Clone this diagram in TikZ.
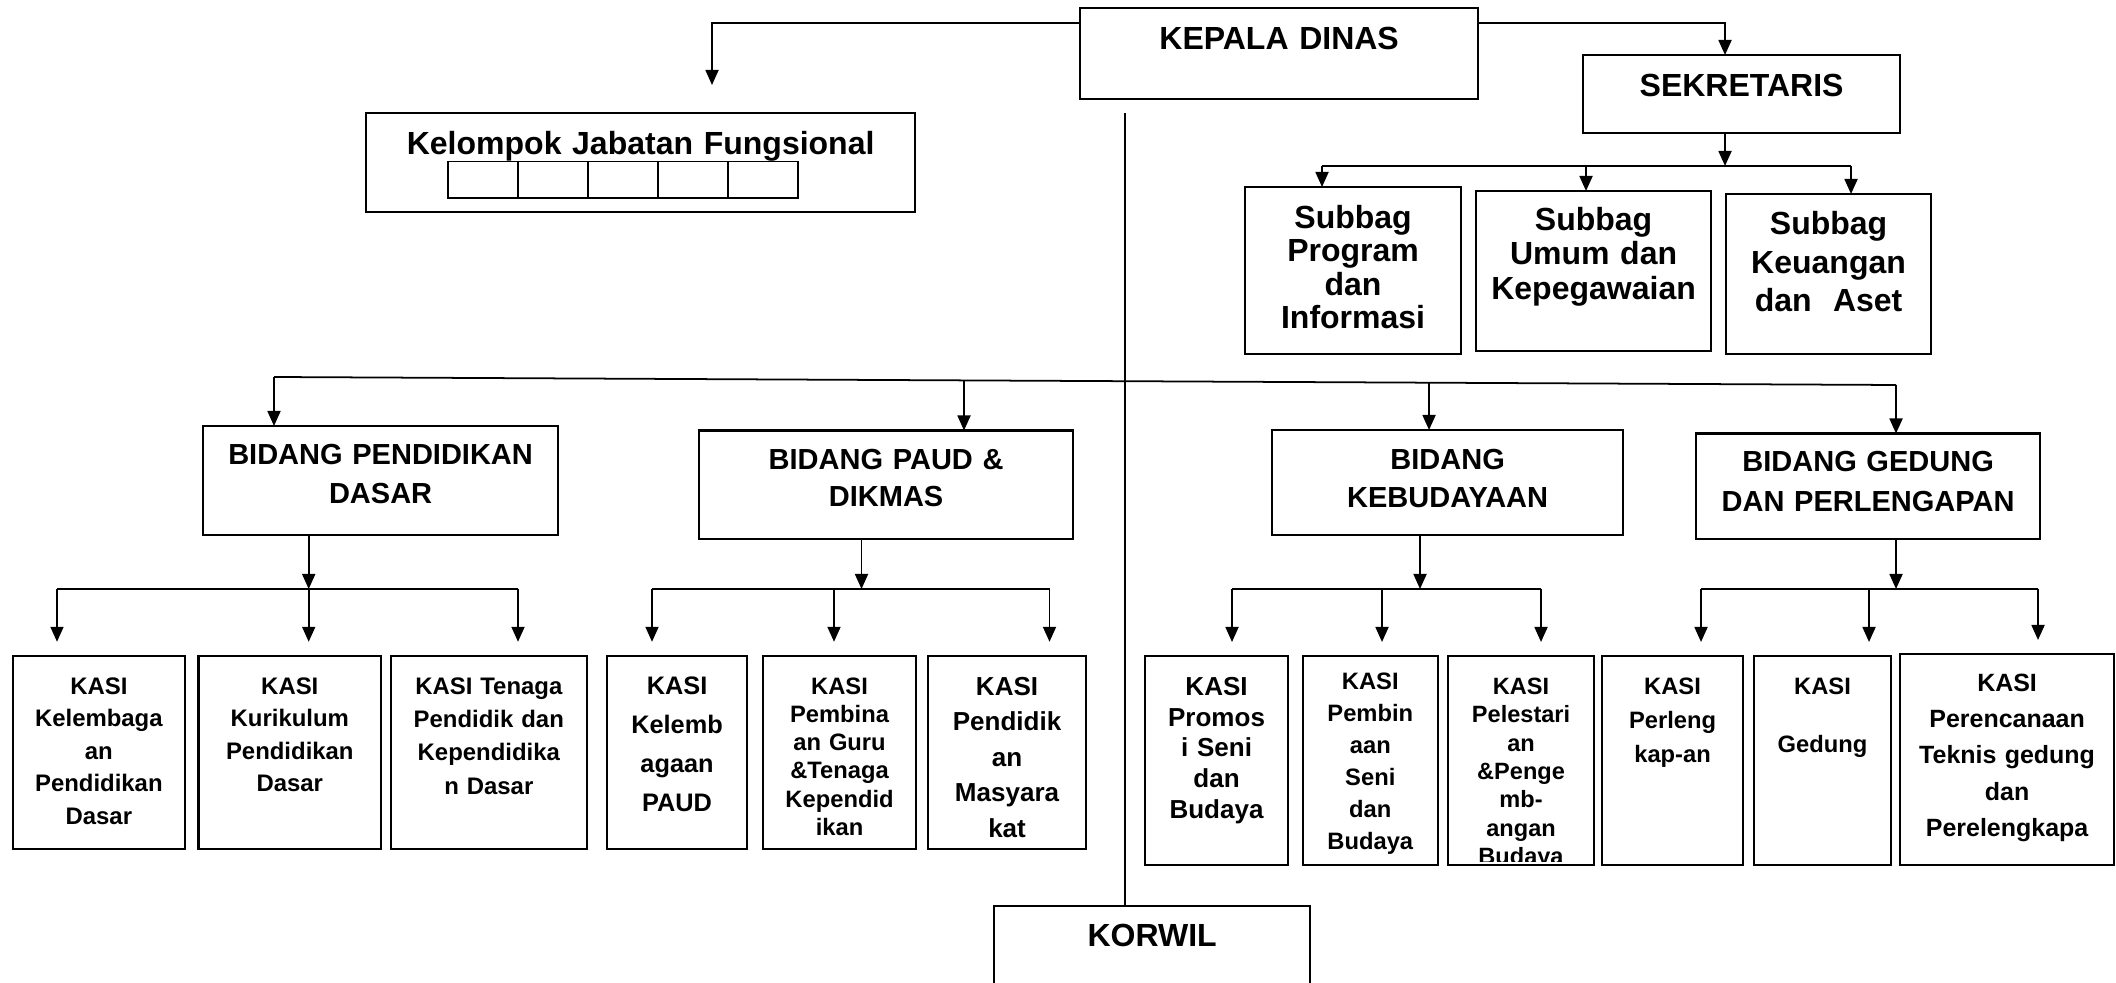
\documentclass[tikz,border=0pt]{standalone}
\usepackage{fontspec}
\setmainfont{Liberation Sans}
\usepackage{tikz}
\usetikzlibrary{arrows.meta,positioning,calc}
\tikzset{
  box/.style={draw,line width=0.6pt,inner sep=0pt,outer sep=0pt,align=center,anchor=north west},
  sz/.style n args={3}{text width=#1,text height=#2,text depth=#3},
  head/.style={box,font=\fontsize{9.1}{11}\selectfont\bfseries},
  sub/.style={box,font=\fontsize{9.1}{#1}\selectfont\bfseries},
  bid/.style={box,font=\fontsize{8.25}{#1}\selectfont\bfseries},
  kasi/.style 2 args={box,font=\fontsize{#1}{#2}\selectfont\bfseries},
  cell/.style={draw,line width=0.5pt,inner sep=0pt,minimum width=0.7cm,minimum height=0.366cm,anchor=north west},
  wire/.style={line width=0.5pt},
  arr/.style={-{Triangle[length=0.15cm,width=0.13cm]},line width=0.5pt}
}
\begin{document}
\begin{tikzpicture}[x=0.01cm,y=-0.01cm]
  \clip (0,0) rectangle (2116,983);
  \node[head,sz={3.98cm}{0.41cm}{0.50cm}] (kepala) at (1080,8) {KEPALA DINAS};
  \node[head,sz={3.17cm}{0.417cm}{0.363cm}] (sekretaris) at (1583,55) {SEKRETARIS};
  \node[head,sz={5.49cm}{0.41cm}{0.58cm}] (jabfung) at (366,113) {Kelompok Jabatan Fungsional};
  \foreach \i in {0,...,4}
    \node[cell] (jf\i) at (447+70*\i,160.7) {};
  \node[head,sz={3.16cm}{0.404cm}{0.60cm}] (korwil) at (994,905.6) {KORWIL};

  \node[sub=9.5pt,sz={2.16cm}{0.412cm}{1.258cm}] (sbprog) at (1245,187) {Subbag\\Program\\dan\\Informasi};
  \node[sub=9.8pt,sz={2.35cm}{0.395cm}{1.205cm}] (sbumum) at (1476,191) {Subbag\\Umum dan\\Kepegawaian};
  \node[sub=10.95pt,sz={2.05cm}{0.405cm}{1.195cm}] (sbkeu) at (1726,194) {Subbag\\Keuangan\\dan~~Aset};

  \node[bid=11.1pt,sz={3.55cm}{0.384cm}{0.706cm}] (bpd) at (203,426) {BIDANG PENDIDIKAN\\DASAR};
  \node[bid=10.4pt,sz={3.74cm}{0.394cm}{0.688cm}] (bpaud) at (699,430.5) {BIDANG PAUD \&\\DIKMAS};
  \node[bid=10.8pt,sz={3.51cm}{0.399cm}{0.647cm}] (bkeb) at (1272,430) {BIDANG\\KEBUDAYAAN};
  \node[bid=11.4pt,sz={3.44cm}{0.379cm}{0.673cm}] (bged) at (1696,433.5) {BIDANG GEDUNG\\DAN PERLENGAPAN};

  \node[kasi={6.8}{9.25},sz={1.724cm}{0.383cm}{1.549cm}] (kpd1) at (12.6,655.8) {KASI\\Kelembaga\\an\\Pendidikan\\Dasar};
  \node[kasi={6.8}{9.25},sz={1.825cm}{0.383cm}{1.549cm}] (kpd2) at (198.5,655.8) {KASI\\Kurikulum\\Pendidikan\\Dasar};
  \node[kasi={6.8}{9.5},sz={1.955cm}{0.383cm}{1.549cm}] (kpd3) at (391,655.8) {KASI Tenaga\\Pendidik dan\\Kependidika\\n Dasar};
  \node[kasi={7.2}{11.1},sz={1.40cm}{0.387cm}{1.545cm}] (kpa1) at (607,655.8) {KASI\\Kelemb\\agaan\\PAUD};
  \node[kasi={6.75}{8},sz={1.53cm}{0.387cm}{1.545cm}] (kpa2) at (763,655.8) {KASI\\Pembina\\an Guru\\\&Tenaga\\Kependid\\ikan};
  \node[kasi={7.4}{10.1},sz={1.58cm}{0.395cm}{1.537cm}] (kpa3) at (928,655.8) {KASI\\Pendidik\\an\\Masyara\\kat};
  \node[kasi={7.4}{8.75},sz={1.43cm}{0.393cm}{1.694cm}] (kkb1) at (1145,656) {KASI\\Promos\\i Seni\\dan\\Budaya};
  \node[kasi={6.75}{9.1},sz={1.345cm}{0.331cm}{1.756cm}] (kkb2) at (1303,656) {KASI\\Pembin\\aan\\Seni\\dan\\Budaya};
  \node[kasi={6.7}{8.05},sz={1.46cm}{0.385cm}{1.702cm}] (kkb3) at (1448,656) {KASI\\Pelestari\\an\\\&Penge\\mb-\\angan};
  \begin{scope}
    \clip (kkb3.north west) rectangle ([yshift=0.034cm]kkb3.south east);
    \node[anchor=base,inner sep=0pt,font=\fontsize{6.7}{8.05}\selectfont\bfseries] (kkb3b) at (1521,864.3) {Budaya};
  \end{scope}
  \node[kasi={6.75}{9.7},sz={1.41cm}{0.385cm}{1.702cm}] (kgd1) at (1602,656) {KASI\\Perleng\\kap-an};
  \node[kasi={6.75}{9.5},sz={1.37cm}{0.385cm}{1.702cm}] (kgd2) at (1754,656) {KASI\\[7pt]Gedung};
  \node[kasi={7.1}{10.3},sz={2.14cm}{0.375cm}{1.732cm}] (kgd3) at (1900,654) {KASI\\Perencanaan\\Teknis gedung\\dan\\Perelengkapa};

  \coordinate (kj) at (712,23);
  \coordinate (kjend) at (712,85);
  \coordinate (sj) at (1725,23);
  \draw[arr] (kj -| kepala.west) -- (kj) -- (kjend);
  \draw[arr] (sj -| kepala.east) -- (sj) -- (sj |- sekretaris.north);

  \coordinate (sbj) at (1725,166);
  \coordinate (sbl) at (1322,166);
  \coordinate (sbm) at (1586,166);
  \coordinate (sbr) at (1851,166);
  \draw[arr] (sbj |- sekretaris.south) -- (sbj);
  \draw[wire] (sbl) -- (sbr);
  \foreach \src/\dst in {sbl/sbprog,sbm/sbumum,sbr/sbkeu}
    \draw[arr] (\src) -- (\src |- \dst.north);

  \coordinate (kv) at (1125,113);
  \draw[wire] (kv) -- (kv |- korwil.north);

  \coordinate (bl) at (274,377);
  \coordinate (br) at (1896,385);
  \draw[wire] (bl) -- (br);
  \path ($(bl)!0.4254!(br)$) coordinate (bpa) ($(bl)!0.7121!(br)$) coordinate (bkb);
  \foreach \src/\dst in {bl/bpd,bpa/bpaud,bkb/bkeb,br/bged}
    \draw[arr] (\src) -- (\src |- \dst.north);

  \coordinate (pdj) at (308.7,589);
  \coordinate (pdl) at (57,589);
  \coordinate (pdr) at (518,589);
  \coordinate (paj) at (861.5,589);
  \coordinate (pal) at (652,589);
  \coordinate (pam) at (834,589);
  \coordinate (par) at (1049.5,589);
  \coordinate (kbj) at (1420,589);
  \coordinate (kbl) at (1232,589);
  \coordinate (kbm) at (1382,589);
  \coordinate (kbr) at (1541,589);
  \coordinate (gdj) at (1896,589);
  \coordinate (gdl) at (1701,589);
  \coordinate (gdm) at (1869,589);
  \coordinate (gdr) at (2038,589);
  \foreach \src/\dst in {pdj/bpd,paj/bpaud,kbj/bkeb,gdj/bged}
    \draw[arr] (\src |- \dst.south) -- (\src);
  \draw[wire] (pdl) -- (pdr);
  \draw[wire] (pal) -- (par);
  \draw[wire] (kbl) -- (kbr);
  \draw[wire] (gdl) -- (gdr);
  \foreach \src/\dst in {pdl/kpd1,pdj/kpd2,pdr/kpd3,pal/kpa1,pam/kpa2,par/kpa3,kbl/kkb1,kbm/kkb2,kbr/kkb3,gdl/kgd1,gdm/kgd2,gdr/kgd3}
    \draw[arr,shorten >=0.14cm] (\src) -- (\src |- \dst.north);
\end{tikzpicture}
\end{document}
